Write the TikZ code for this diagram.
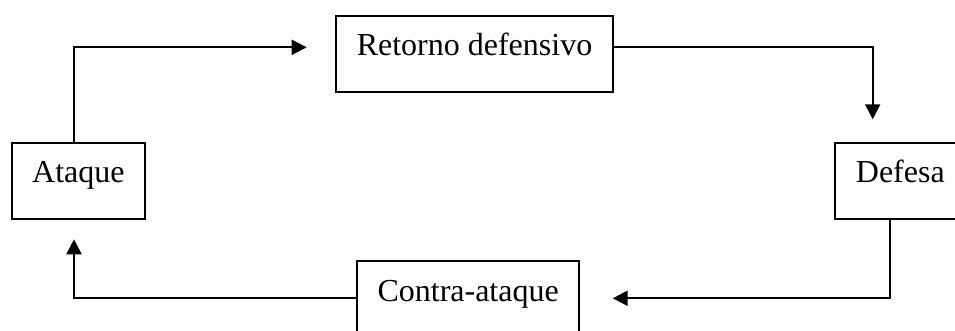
\documentclass[tikz,border=0pt]{standalone}
\usepackage{fontspec}
\setmainfont{Liberation Serif}
\usetikzlibrary{arrows.meta}
\begin{document}
\begin{tikzpicture}[x=1pt,y=-1pt,
  stagebox/.style={draw=black,line width=2pt,rectangle,inner sep=0pt,anchor=north west,
    text height=40pt,text depth=36pt,font=\fontsize{32}{38}\selectfont},
  flow/.style={line width=2pt,-{Triangle[length=15pt,width=15pt]}}]
\useasboundingbox (0,0) rectangle (955,331);
\fill[white] (0,0) rectangle (955,331);
\clip (0,0) rectangle (955,331);
\node[stagebox,minimum width=277pt] (R) at (335,15) {Retorno defensivo};
\node[stagebox,minimum width=133.3pt] (A) at (10.7,141.7) {Ataque};
\node[stagebox,minimum width=130pt] (D) at (834.3,141.7) {Defesa};
\node[stagebox,minimum width=222.3pt] (C) at (356,260) {Contra-ataque};
\coordinate (e1) at (306.7,47.3);
\coordinate (x1) at (74,47.3);
\coordinate (e2) at (872.7,119.3);
\coordinate (k) at (890,298.3);
\coordinate (e3) at (612.7,298.3);
\coordinate (e4) at (74,239.3);
\draw[flow] (A.north -| x1) |- (e1);
\draw[flow] (R.east |- e1) -| (e2);
\draw[flow] (D.south -| k) |- (e3);
\draw[flow] (C.west |- e3) -| (e4);
\end{tikzpicture}
\end{document}
